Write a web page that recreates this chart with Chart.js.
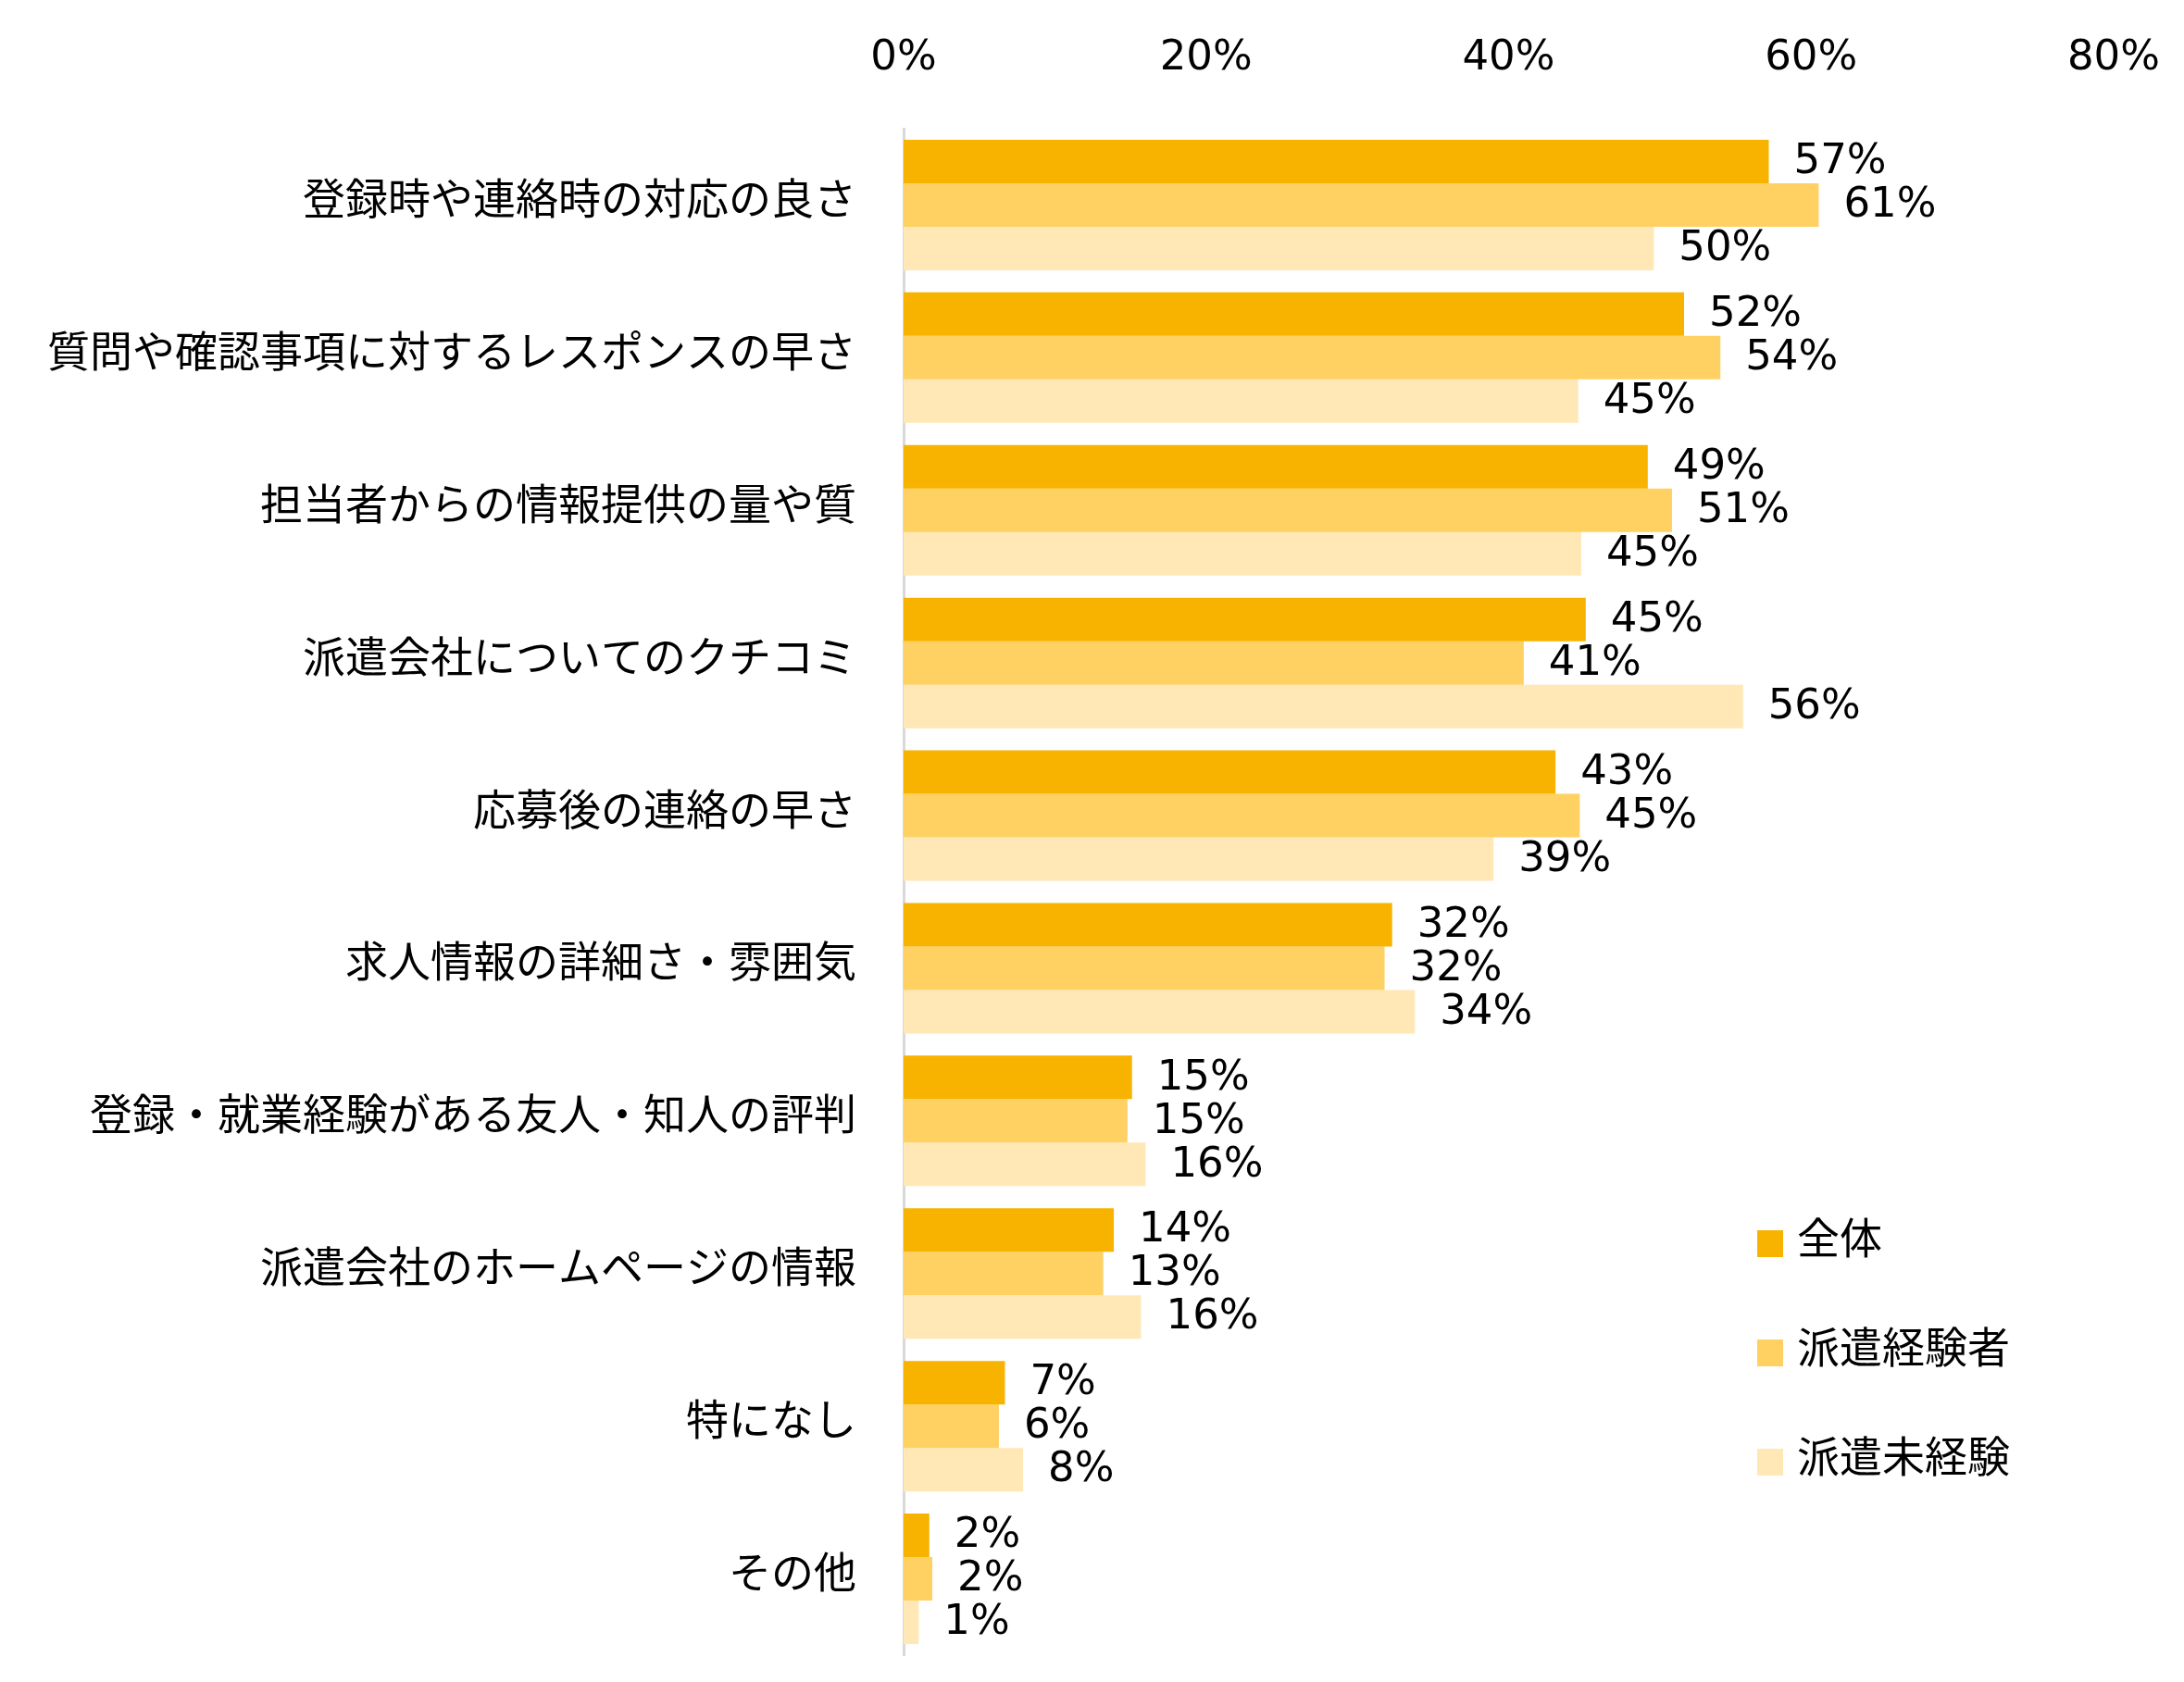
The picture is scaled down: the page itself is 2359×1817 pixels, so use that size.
<!DOCTYPE html>
<html lang="ja">
<head>
<meta charset="utf-8">
<script src="https://cdn.jsdelivr.net/npm/chart.js@4.4.1/dist/chart.umd.min.js"></script>
<style>
html, body { margin: 0; padding: 0; background: #fff; }
#wrap { width: 2359px; height: 1817px; position: relative; }
</style>
</head>
<body>
<div id="wrap"><canvas id="reasonChart"></canvas></div>
<script>
const categories = [
  '登録時や連絡時の対応の良さ',
  '質問や確認事項に対するレスポンスの早さ',
  '担当者からの情報提供の量や質',
  '派遣会社についてのクチコミ',
  '応募後の連絡の早さ',
  '求人情報の詳細さ・雰囲気',
  '登録・就業経験がある友人・知人の評判',
  '派遣会社のホームページの情報',
  '特になし',
  'その他'
];
const seriesNames = ['全体', '派遣経験者', '派遣未経験'];
const zentai = [57.2, 51.6, 49.2, 45.1, 43.1, 32.3, 15.1, 13.9, 6.7, 1.7];
const keikensha = [60.5, 54.0, 50.8, 41.0, 44.7, 31.8, 14.8, 13.2, 6.3, 1.9];
const mikeiken = [49.6, 44.6, 44.8, 55.5, 39.0, 33.8, 16.0, 15.7, 7.9, 1.0];
const xTicks = [0, 20, 40, 60, 80];

const barColors = ['#F8B200', '#FFD163', '#FFE8B5'];
const numFont = "'DejaVu Sans', 'Noto Sans CJK JP', sans-serif";
const jpFont = "'Noto Sans CJK JP', sans-serif";

// value labels right of each bar
const barValueLabels = {
  id: 'barValueLabels',
  afterDatasetsDraw(chart) {
    const ctx = chart.ctx;
    ctx.save();
    ctx.font = '45px ' + numFont;
    ctx.fillStyle = '#000';
    ctx.textAlign = 'left';
    ctx.textBaseline = 'middle';
    chart.data.datasets.forEach((ds, i) => {
      chart.getDatasetMeta(i).data.forEach((bar, j) => {
        ctx.fillText(Math.round(ds.data[j]) + '%', bar.x + 27, bar.y + 1);
      });
    });
    ctx.restore();
  }
};

// legend drawn inside the plot, lower right
const sideLegend = {
  id: 'sideLegend',
  afterDraw(chart) {
    const ctx = chart.ctx;
    const x = 1898;
    const y0 = 1343;
    const step = 118;
    ctx.save();
    ctx.font = '46px ' + jpFont;
    ctx.textAlign = 'left';
    ctx.textBaseline = 'middle';
    chart.data.datasets.forEach((ds, i) => {
      const y = y0 + i * step;
      ctx.fillStyle = ds.backgroundColor;
      ctx.fillRect(x, y - 14, 28, 29);
      ctx.fillStyle = '#000';
      ctx.fillText(ds.label, x + 43, y - 6);
    });
    ctx.restore();
  }
};

new Chart(document.getElementById('reasonChart'), {
  type: 'bar',
  data: {
    labels: categories,
    datasets: [
      { label: seriesNames[0], data: zentai, backgroundColor: barColors[0] },
      { label: seriesNames[1], data: keikensha, backgroundColor: barColors[1] },
      { label: seriesNames[2], data: mikeiken, backgroundColor: barColors[2] }
    ]
  },
  options: {
    indexAxis: 'y',
    responsive: true,
    maintainAspectRatio: false,
    animation: false,
    layout: { padding: { left: 0, top: 0, right: 76, bottom: 29 } },
    datasets: { bar: { categoryPercentage: 0.855, barPercentage: 1.0 } },
    plugins: {
      legend: { display: false },
      tooltip: { enabled: false }
    },
    scales: {
      x: {
        position: 'top',
        min: xTicks[0],
        max: xTicks[xTicks.length - 1],
        afterFit(scale) {
          scale.height = 139;
          scale.paddingLeft = 0;
          scale.paddingRight = 0;
        },
        afterBuildTicks(scale) { scale.ticks = xTicks.map(v => ({ value: v })); },
        ticks: {
          padding: 49,
          color: '#000',
          font: { family: numFont, size: 45 },
          callback: v => v + '%'
        },
        grid: { display: false, drawTicks: false },
        border: { display: false }
      },
      y: {
        afterFit(scale) {
          scale.width = 976;
          scale.paddingTop = 0;
          scale.paddingBottom = 0;
        },
        ticks: {
          padding: 51,
          labelOffset: -8,
          color: '#000',
          font: { family: jpFont, size: 46 }
        },
        grid: { display: false, drawTicks: false },
        border: { display: true, color: '#D9D9D9', width: 3 }
      }
    }
  },
  plugins: [barValueLabels, sideLegend]
});
</script>
</body>
</html>
